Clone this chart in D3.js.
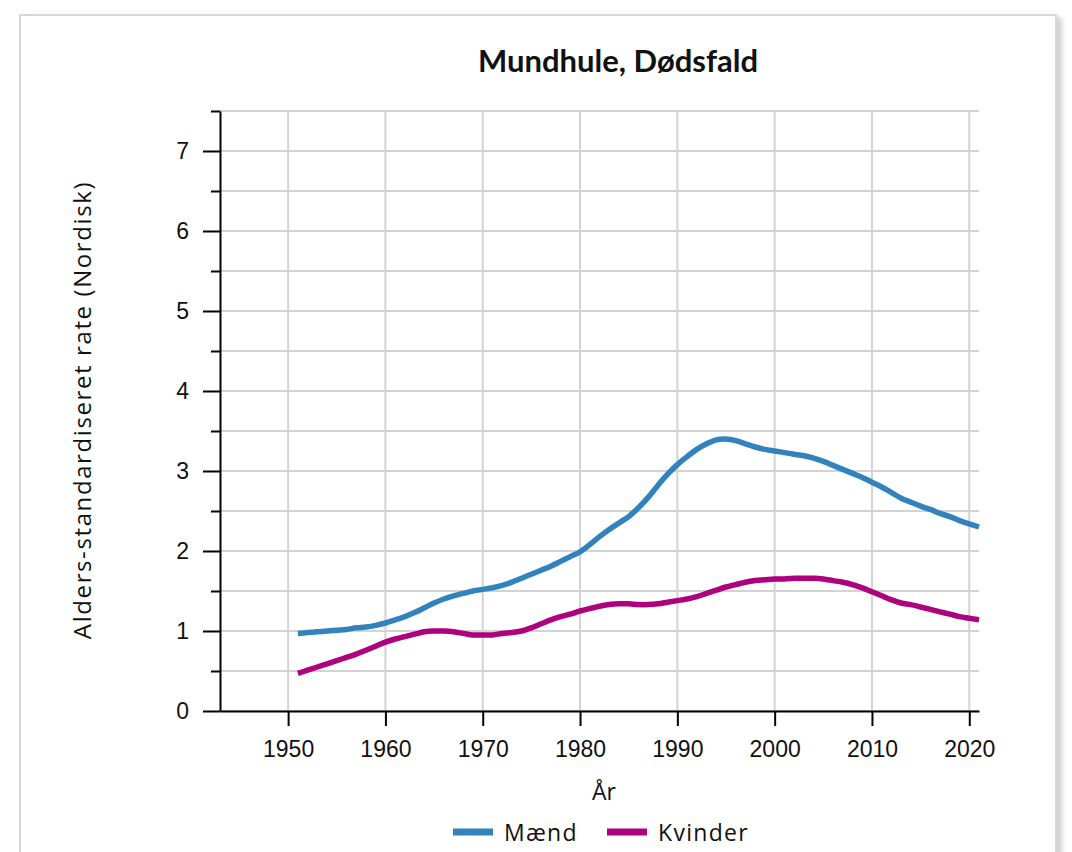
<!DOCTYPE html>
<html>
<head>
<meta charset="utf-8">
<script src="https://cdn.jsdelivr.net/npm/d3@7"></script>
<style>
  body { margin: 0; background: #fff; overflow: hidden; }
  #frame {
    position: absolute; left: 19px; top: 14px; width: 1034px; height: 880px;
    border: 2px solid #d8d8d8; box-shadow: 5px 3px 5px rgba(0,0,0,0.18);
    background: #fff;
  }
  svg { position: absolute; left: 0; top: 0; }
</style>
</head>
<body>
<div id="frame"></div>
<div id="chart"></div>
<script>
// Data
const years = d3.range(1951, 2022);
const maend = [
  0.97, 0.98, 0.99, 1.00, 1.01, 1.02, 1.04, 1.05, 1.07, 1.10,
  1.14, 1.18, 1.23, 1.29, 1.35, 1.40, 1.44, 1.47, 1.50, 1.52,
  1.54, 1.57, 1.61, 1.66, 1.71, 1.76, 1.81, 1.87, 1.93, 1.99,
  2.08, 2.18, 2.27, 2.35, 2.43, 2.54, 2.67, 2.82, 2.96, 3.08,
  3.18, 3.27, 3.34, 3.39, 3.40, 3.38, 3.34, 3.30, 3.27, 3.25,
  3.23, 3.21, 3.19, 3.16, 3.12, 3.07, 3.02, 2.97, 2.92, 2.86,
  2.80, 2.73, 2.66, 2.61, 2.56, 2.52, 2.47, 2.43, 2.38, 2.34,
  2.30
];
const kvinder = [
  0.47, 0.51, 0.55, 0.59, 0.63, 0.67, 0.71, 0.76, 0.81, 0.86,
  0.90, 0.93, 0.96, 0.99, 1.00, 1.00, 0.99, 0.97, 0.95, 0.95,
  0.95, 0.97, 0.98, 1.00, 1.04, 1.09, 1.14, 1.18, 1.21, 1.25,
  1.28, 1.31, 1.33, 1.34, 1.34, 1.33, 1.33, 1.34, 1.36, 1.38,
  1.40, 1.43, 1.47, 1.51, 1.55, 1.58, 1.61, 1.63, 1.64, 1.65,
  1.65, 1.66, 1.66, 1.66, 1.65, 1.63, 1.61, 1.58, 1.54, 1.49,
  1.44, 1.39, 1.35, 1.33, 1.30, 1.27, 1.24, 1.21, 1.18, 1.16,
  1.14
];
const seriesNames = ["Mænd", "Kvinder"];
const seriesColors = ["#3182bd", "#ae017e"];
const xTicks = [1950, 1960, 1970, 1980, 1990, 2000, 2010, 2020];
const yTicks = [0, 1, 2, 3, 4, 5, 6, 7];
const yMinorTicks = [0.5, 1.5, 2.5, 3.5, 4.5, 5.5, 6.5, 7.5];

const width = 1072, height = 852;
const margin = { left: 220, right: 93, top: 111, bottom: 141 };

const svg = d3.select("#chart").append("svg")
  .attr("width", width)
  .attr("height", height);

const x = d3.scaleLinear().domain([1943, 2021]).range([margin.left, width - margin.right]);
const y = d3.scaleLinear().domain([0, 7.5]).range([height - margin.bottom, margin.top]);

// grid
const grid = svg.append("g").attr("stroke", "#d3d3d3").attr("stroke-width", 2);
grid.selectAll(".vg").data(xTicks).join("line")
  .attr("x1", d => x(d)).attr("x2", d => x(d))
  .attr("y1", y(0)).attr("y2", y(7.5));
grid.selectAll(".hg").data(yTicks.concat(yMinorTicks)).join("line")
  .attr("x1", x(1943)).attr("x2", x(2021))
  .attr("y1", d => y(d)).attr("y2", d => y(d));

// axes
const xAxis = svg.append("g")
  .attr("transform", `translate(0,${y(0)})`)
  .call(d3.axisBottom(x).tickValues(xTicks).tickFormat(d3.format("d")).tickSize(15).tickSizeOuter(0));
const yAxis = svg.append("g")
  .attr("transform", `translate(${x(1943)},0)`)
  .call(d3.axisLeft(y).tickValues(yTicks).tickFormat(d3.format("d")).tickSize(17).tickPadding(14).tickSizeOuter(0));
svg.append("g")
  .attr("transform", `translate(${x(1943)},0)`)
  .call(d3.axisLeft(y).tickValues(yMinorTicks).tickFormat("").tickSize(9).tickSizeOuter(0))
  .select(".domain").remove();

svg.selectAll(".domain, .tick line").attr("stroke", "#000").attr("stroke-width", 2);
xAxis.selectAll("text")
  .attr("font-family", "Liberation Sans, Arial, sans-serif")
  .attr("font-size", 23).attr("fill", "#111").attr("dy", "1.2em");
yAxis.selectAll("text")
  .attr("font-family", "Liberation Sans, Arial, sans-serif")
  .attr("font-size", 23).attr("fill", "#111");

// lines
const line = d3.line()
  .x((d, i) => x(years[i]))
  .y(d => y(d))
  .curve(d3.curveCatmullRom.alpha(0.5));

svg.append("g").selectAll("path")
  .data([maend, kvinder])
  .join("path")
  .attr("d", line)
  .attr("fill", "none")
  .attr("stroke", (d, i) => seriesColors[i])
  .attr("stroke-width", 5.5)
  .attr("stroke-linejoin", "round");

// title and axis titles
svg.append("text")
  .attr("x", 618).attr("y", 72)
  .attr("text-anchor", "middle")
  .attr("font-family", "Lato, sans-serif")
  .attr("font-weight", "bold")
  .attr("font-size", 31)
  .attr("fill", "#111")
  .text("Mundhule, Dødsfald");

svg.append("text")
  .attr("x", 604).attr("y", 800)
  .attr("text-anchor", "middle")
  .attr("font-family", "Open Sans, sans-serif")
  .attr("font-size", 23)
  .attr("fill", "#111")
  .text("År");

svg.append("text")
  .attr("transform", "translate(91,410) rotate(-90)")
  .attr("text-anchor", "middle")
  .attr("font-family", "Open Sans, sans-serif")
  .attr("font-size", 24)
  .attr("letter-spacing", 1.6)
  .attr("fill", "#111")
  .text("Alders-standardiseret rate (Nordisk)");

// legend
const legendX = [453, 607];
const legend = svg.append("g").selectAll("g")
  .data(seriesNames)
  .join("g")
  .attr("transform", (d, i) => `translate(${legendX[i]},832)`);
legend.append("line")
  .attr("x1", 0).attr("x2", 40)
  .attr("stroke", (d, i) => seriesColors[i])
  .attr("stroke-width", 7);
legend.append("text")
  .attr("x", 51).attr("y", 9)
  .attr("font-family", "Open Sans, sans-serif")
  .attr("font-size", 23)
  .attr("letter-spacing", 1.3)
  .attr("fill", "#111")
  .text(d => d);
</script>
</body>
</html>
